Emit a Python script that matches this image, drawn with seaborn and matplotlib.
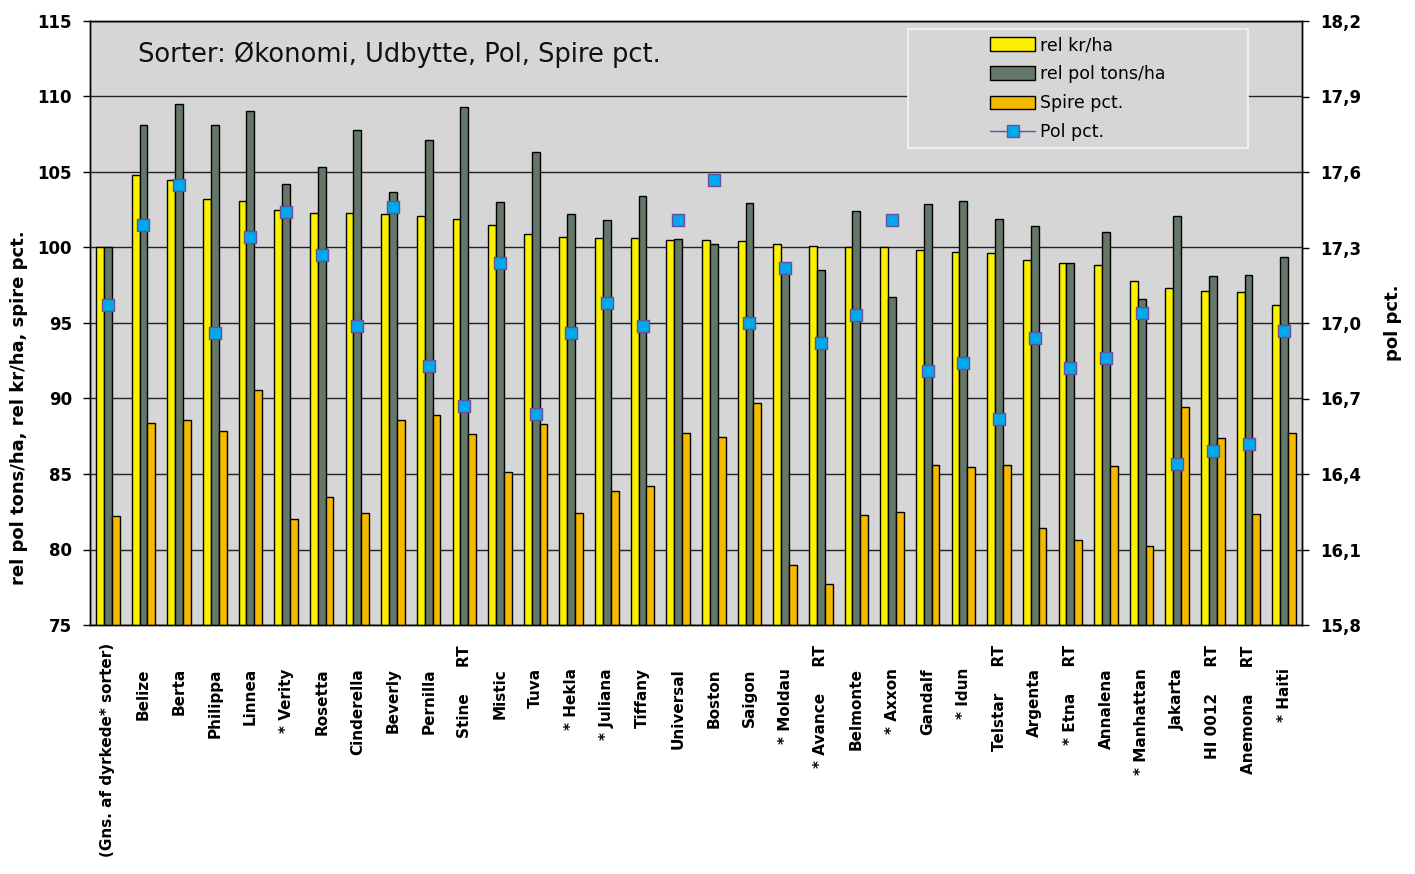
import numpy as np
import pandas as pd
import matplotlib
matplotlib.use("Agg")
import matplotlib.pyplot as plt
import seaborn as sns
from matplotlib.patches import Patch, Rectangle
from matplotlib.lines import Line2D
from matplotlib.ticker import FuncFormatter

sns.set_style("white")
plt.rcParams['font.family'] = ['DejaVu Sans']
plt.rcParams['text.color'] = 'black'
plt.rcParams['axes.labelcolor'] = 'black'
plt.rcParams['xtick.color'] = 'black'
plt.rcParams['ytick.color'] = 'black'

# ---- data ----
sorter = ["(Gns. af dyrkede* sorter)", "Belize", "Berta", "Philippa", "Linnea", "* Verity",
          "Rosetta", "Cinderella", "Beverly", "Pernilla", "Stine", "Mistic", "Tuva",
          "* Hekla", "* Juliana", "Tiffany", "Universal", "Boston", "Saigon", "* Moldau",
          "* Avance", "Belmonte", "* Axxon", "Gandalf", "* Idun", "Telstar", "Argenta",
          "* Etna", "Annalena", "* Manhattan", "Jakarta", "HI 0012", "Anemona", "* Haiti"]
rt_mark = [0, 0, 0, 0, 0, 0, 0, 0, 0, 0, 1, 0, 0, 0, 0, 0, 0, 0, 0, 0,
           1, 0, 0, 0, 0, 1, 0, 1, 0, 0, 0, 1, 1, 0]
rel_kr = [100.0, 104.8, 104.5, 103.2, 103.1, 102.5, 102.3, 102.3, 102.2, 102.1, 101.9,
          101.5, 100.9, 100.7, 100.6, 100.6, 100.5, 100.5, 100.4, 100.2, 100.1, 100.0,
          100.0, 99.85, 99.7, 99.65, 99.2, 99.0, 98.85, 97.8, 97.35, 97.15, 97.05, 96.2]
rel_pol = [100.0, 108.1, 109.5, 108.1, 109.05, 104.2, 105.3, 107.8, 103.65, 107.15, 109.3,
           103.0, 106.3, 102.2, 101.85, 103.4, 100.55, 100.25, 102.95, 98.6, 98.5, 102.45,
           96.7, 102.85, 103.05, 101.9, 101.4, 98.95, 101.0, 96.6, 102.1, 98.1, 98.15, 99.35]
spire = [82.2, 88.4, 88.6, 87.85, 90.55, 82.0, 83.5, 82.45, 88.55, 88.9, 87.65, 85.15, 88.3,
         82.45, 83.85, 84.2, 87.7, 87.45, 89.7, 79.0, 77.7, 82.3, 82.5, 85.6, 85.45, 85.6,
         81.4, 80.6, 85.55, 80.2, 89.45, 87.4, 82.35, 87.7]
pol_pct = [17.07, 17.39, 17.55, 16.96, 17.34, 17.44, 17.27, 16.99, 17.46, 16.83, 16.67,
           17.24, 16.64, 16.96, 17.08, 16.99, 17.41, 17.57, 17.00, 17.22, 16.92, 17.03,
           17.41, 16.81, 16.84, 16.62, 16.94, 16.82, 16.86, 17.04, 16.44, 16.49, 16.52, 16.97]
series = ["rel kr/ha", "rel pol tons/ha", "Spire pct."]
colors = ["#FAF000", "#647768", "#F5B900"]
left_ticks = [75, 80, 85, 90, 95, 100, 105, 110, 115]
right_ticks = [15.8, 16.1, 16.4, 16.7, 17.0, 17.3, 17.6, 17.9, 18.2]
title = "Sorter: Økonomi, Udbytte, Pol, Spire pct."

n = len(sorter)
df = pd.DataFrame({
    "sort": sorter * 3,
    "serie": [series[0]] * n + [series[1]] * n + [series[2]] * n,
    "value": rel_kr + rel_pol + spire,
})

fig = plt.figure(figsize=(14.15, 8.74), dpi=100)
ax = fig.add_axes([90 / 1415, 1 - 625 / 874, 1212 / 1415, 604 / 874])
ax.set_facecolor("#D6D6D6")

sns.barplot(data=df, x="sort", y="value", hue="serie", order=sorter, hue_order=series,
            palette=colors, width=0.66, dodge=True, gap=0, edgecolor="black",
            linewidth=1.0, saturation=1, legend=False, ax=ax, zorder=2)

ax.set_ylim(left_ticks[0], left_ticks[-1])
ax.set_xlim(-0.5, n - 0.5)
ax.set_yticks(left_ticks)
ax.set_yticklabels([str(t) for t in left_ticks], fontsize=12, fontweight="bold")
ax.yaxis.grid(True, color="#222222", linewidth=1.0)
ax.set_axisbelow(True)
ax.set_xticks(np.arange(-0.5, n, 1.0))
ax.set_xticklabels([])
ax.tick_params(axis="x", direction="out", length=5, width=1, color="black")
ax.tick_params(axis="y", direction="out", length=5, width=1, color="black", pad=8)
ax.set_xlabel("")
ax.set_ylabel("rel pol tons/ha, rel kr/ha, spire pct.", fontsize=13, fontweight="bold")
ax.yaxis.set_label_coords(-0.051, 0.36)
for s in ax.spines.values():
    s.set_color("black")
    s.set_linewidth(1.0)

# category labels
for i, name in enumerate(sorter):
    if rt_mark[i]:
        txt = name + "     RT"
        off = 14.5
    elif i == 0:
        txt = name
        off = 13
    else:
        txt = name
        off = 31
    ax.annotate(txt, xy=(i, 0), xycoords=("data", "axes fraction"),
                xytext=(0, -off), textcoords="offset points", rotation=90,
                ha="center", va="top", fontsize=11, fontweight="bold")

ax.text(0.0396, 0.9437, title, transform=ax.transAxes, fontsize=18.5,
        va="center", ha="left", color="#111111")

# right axis
ax2 = ax.twinx()
sns.scatterplot(x=np.arange(n), y=pol_pct, marker="s", s=66, color="#00A8EC",
                edgecolor="#6A4FA0", linewidth=1.0, ax=ax2, zorder=5, legend=False)
ax2.set_ylim(right_ticks[0], right_ticks[-1])
ax2.set_yticks(right_ticks)
ax2.yaxis.set_major_formatter(FuncFormatter(lambda v, p: f"{v:.1f}".replace(".", ",")))
for lab in ax2.get_yticklabels():
    lab.set_fontweight("bold")
    lab.set_fontsize(12)
ax2.tick_params(axis="y", direction="out", length=5, width=1, color="black", pad=8)
ax2.set_ylabel("pol pct.", fontsize=13, fontweight="bold")
ax2.yaxis.set_label_coords(1.068, 0.5)
for s in ax2.spines.values():
    s.set_color("black")
    s.set_linewidth(1.0)

# legend box
box = Rectangle(((908 - 90) / 1212, (625 - 148) / 604), 340 / 1212, 119 / 604,
                transform=ax2.transAxes, facecolor="#D6D6D6", edgecolor="#F4F4F4",
                linewidth=1.2, zorder=8)
ax2.add_patch(box)
handles = [Patch(facecolor=c, edgecolor="black", linewidth=1.0) for c in colors]
handles.append(Line2D([0], [0], color="#6A4FA0", linewidth=1.0, marker="s",
                      markersize=8, markerfacecolor="#00A8EC", markeredgecolor="#6A4FA0"))
leg = ax2.legend(handles, series + ["Pol pct."], loc="upper left",
                 bbox_to_anchor=((990 - 90) / 1212, (625 - 36) / 604),
                 frameon=False, borderpad=0, borderaxespad=0, fontsize=12.5,
                 handlelength=2.6, handleheight=0.8, handletextpad=0.3,
                 labelspacing=0.64)
leg.set_zorder(9)

fig.savefig("out.png", dpi=100, facecolor="white")
